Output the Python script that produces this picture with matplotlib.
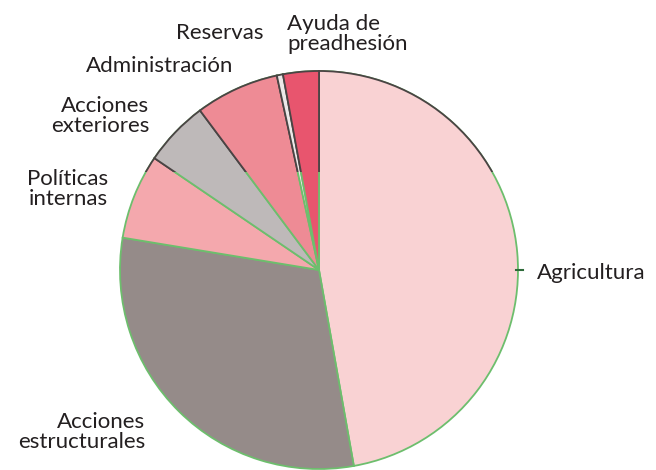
import matplotlib.pyplot as plt

plt.rcParams['font.family'] = ['Lato', 'DejaVu Sans']

# EU budget shares (%), clockwise from 12 o'clock
labels = ['Agricultura', 'Acciones estructurales', 'Políticas internas',
          'Acciones exteriores', 'Administración', 'Reservas',
          'Ayuda de preadhesión']
shares = [47.2, 30.4, 6.9, 5.3, 6.8, 0.5, 2.9]
colors = ['#F9D2D3', '#958B89', '#F4A8AD', '#BEB9B9', '#EE8B95', '#ECE8E8', '#E8556E']

W, H = 656, 470
cx, cy, r = 319, H - 270, 199
split = 172  # scan seam (px from top): dark outlines above, green below

fig = plt.figure(figsize=(6.56, 4.70), dpi=100)
ax = fig.add_axes([0, 0, 1, 1])
ax.pie(shares, colors=colors, startangle=90, counterclock=False,
       center=(cx, cy), radius=r,
       wedgeprops=dict(edgecolor='#6DBE6D', linewidth=1.3))
ax.set_xlim(0, W)
ax.set_ylim(0, H)
ax.set_aspect('auto')
ax.axis('off')

# upper strip of the scan, same pie with dark outlines
ax_top = fig.add_axes([0, (H - split) / H, 1, split / H])
top_wedges, _ = ax_top.pie(shares, colors=colors, startangle=90, counterclock=False,
                           center=(cx, cy), radius=r,
                           wedgeprops=dict(edgecolor='#4A4444', linewidth=1.3))
for w in top_wedges:
    w.set_clip_on(True)  # pie turns clipping off by default
ax_top.set_xlim(0, W)
ax_top.set_ylim(H - split, H)
ax_top.set_aspect('auto')
ax_top.axis('off')

# small leader tick for Agricultura
ax.plot([cx + r - 2, cx + r + 5], [cy, cy], color='#2E6B3A', lw=1.5)

fs = 16
ls = 1.05
txt = '#231F20'
ax.text(537, H - 273, 'Agricultura', fontsize=fs, color=txt, ha='left', va='center')
ax.text(145, H - 432, 'Acciones\nestructurales', fontsize=fs, color=txt,
        ha='right', va='center', multialignment='right', linespacing=ls)
ax.text(108, H - 189, 'Políticas\ninternas', fontsize=fs, color=txt,
        ha='right', va='center', multialignment='right', linespacing=ls)
ax.text(149, H - 116, 'Acciones\nexteriores', fontsize=fs, color=txt,
        ha='right', va='center', multialignment='right', linespacing=ls)
ax_top.text(233, H - 66, 'Administración', fontsize=fs, color=txt, ha='right', va='center')
ax_top.text(263, H - 33, 'Reservas', fontsize=fs, color=txt, ha='right', va='center')
ax_top.text(287, H - 34, 'Ayuda de\npreadhesión', fontsize=fs, color=txt,
            ha='left', va='center', multialignment='left', linespacing=ls)

plt.savefig('out.png', dpi=100)
